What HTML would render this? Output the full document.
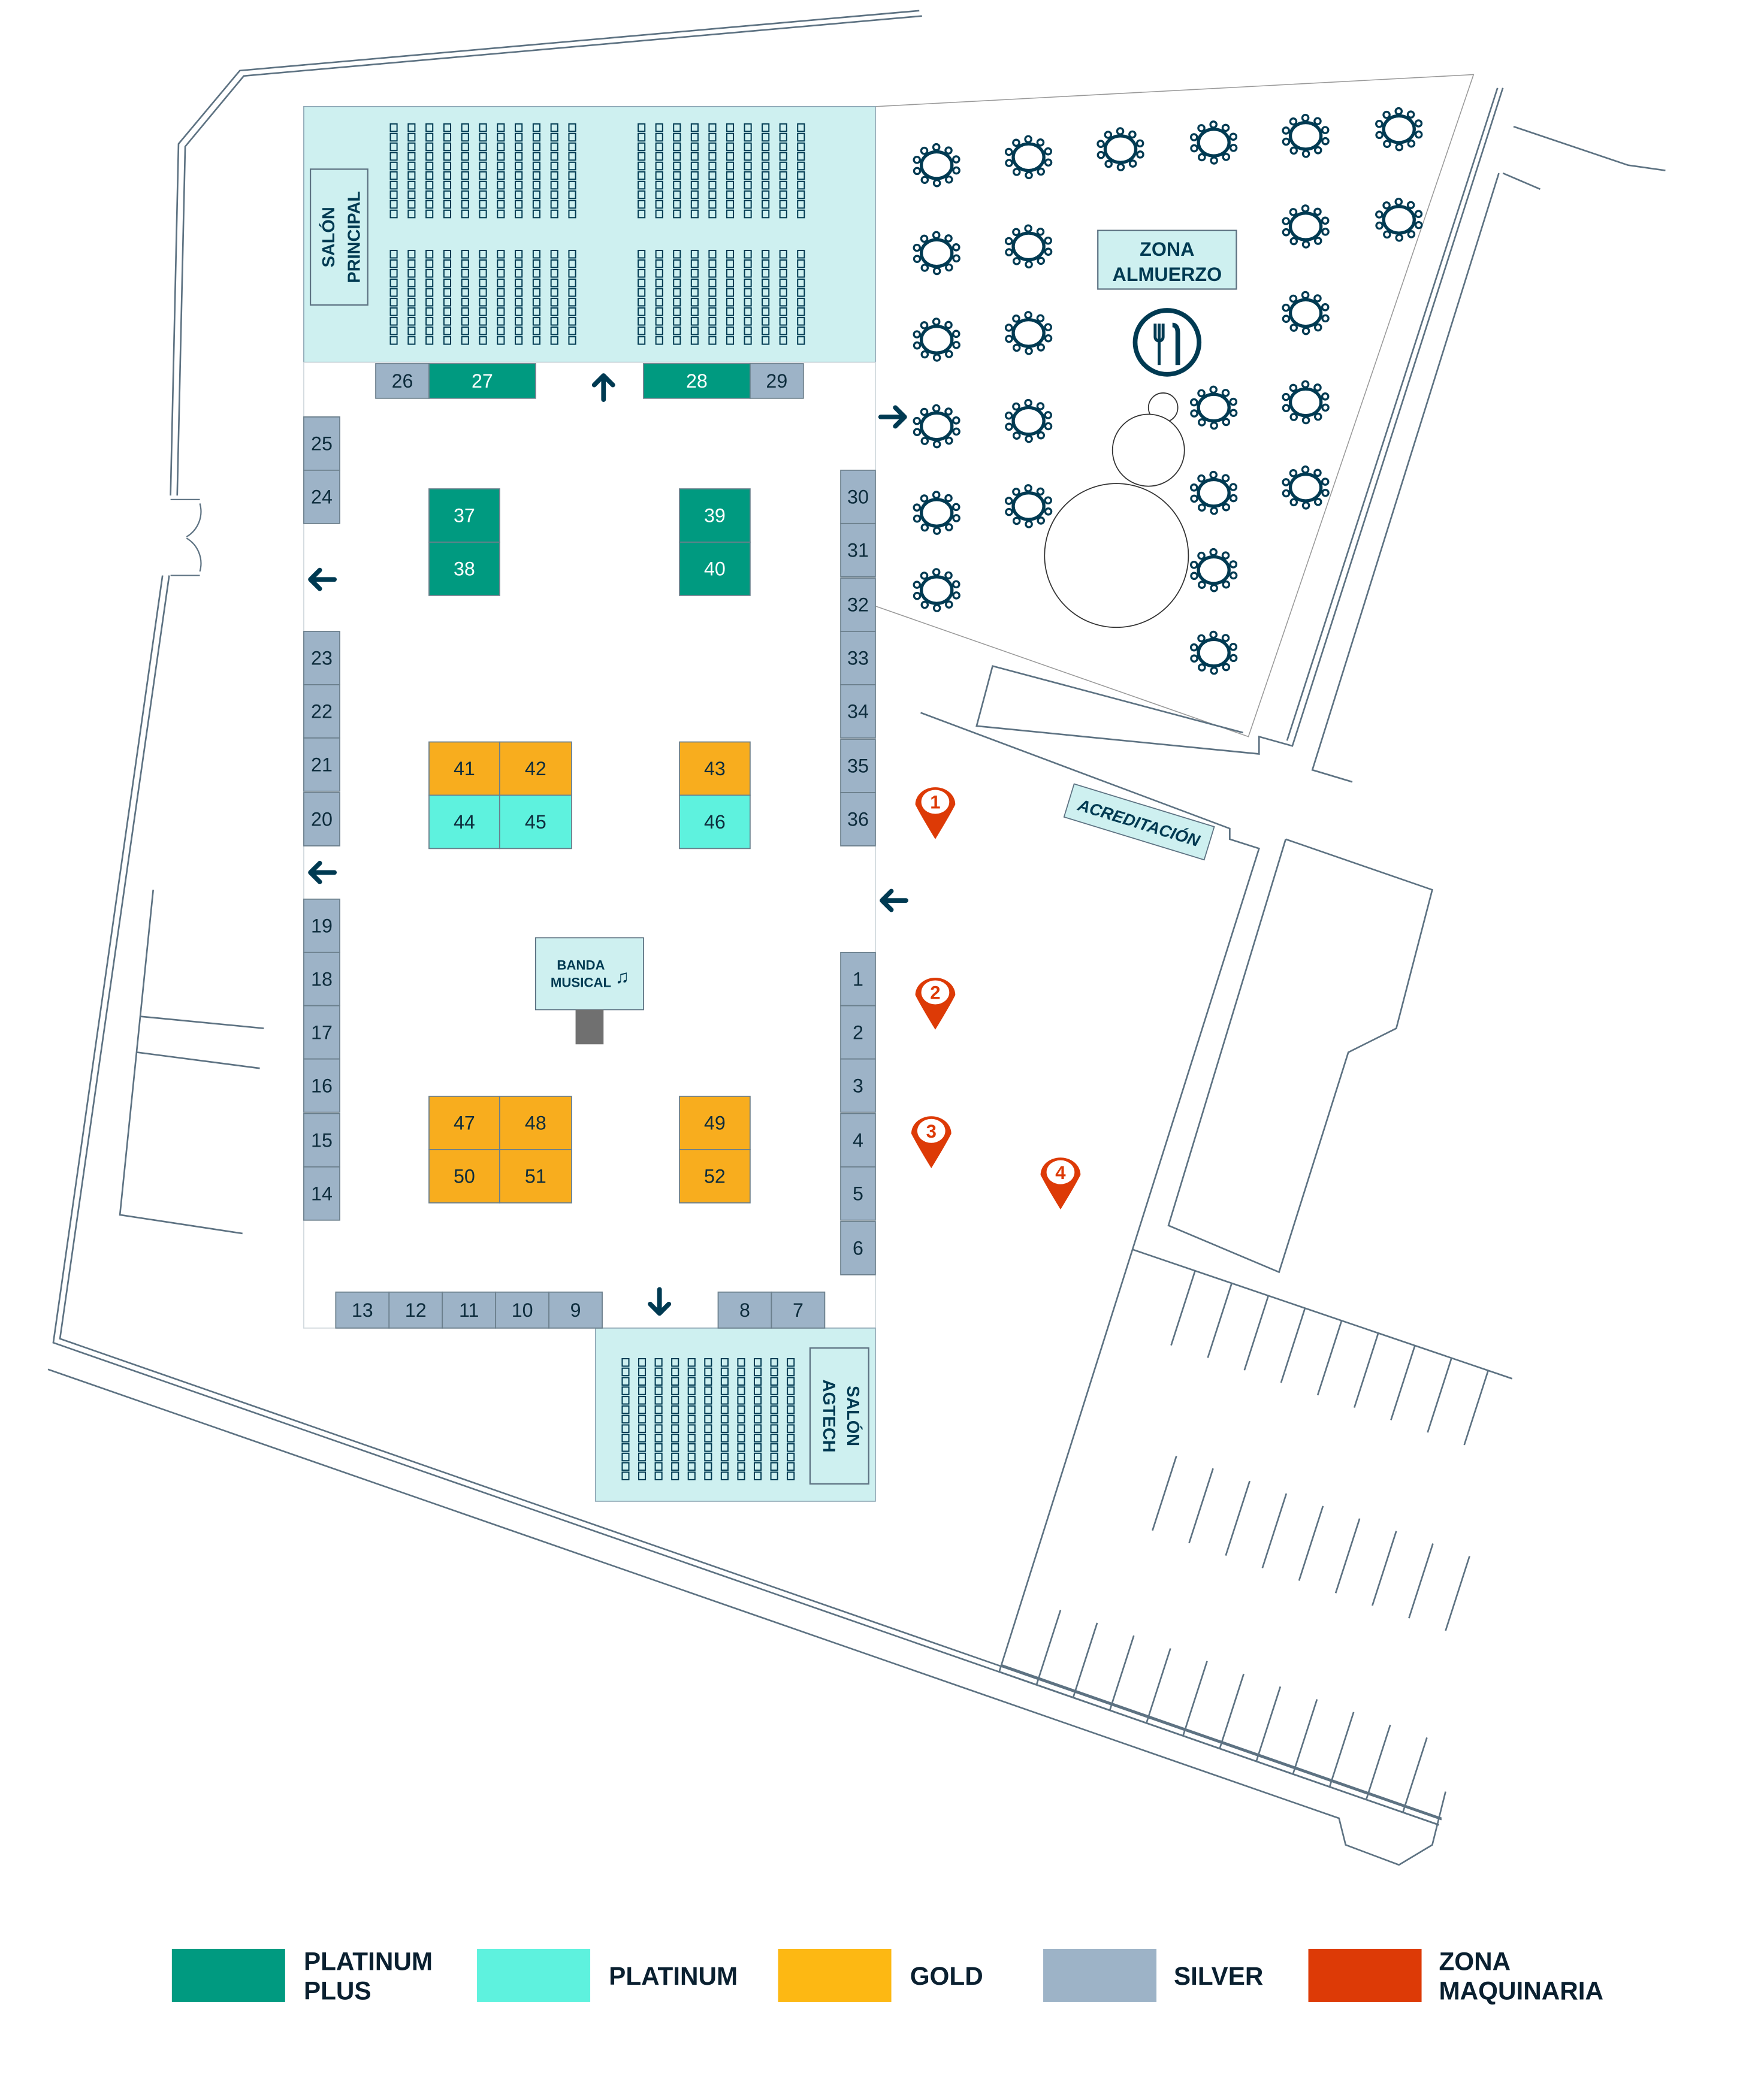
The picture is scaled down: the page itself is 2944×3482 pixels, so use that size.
<!DOCTYPE html>
<html><head><meta charset="utf-8">
<style>
html,body{margin:0;padding:0;background:#fff;}
svg{display:block;}
text{font-family:"Liberation Sans",sans-serif;}
</style></head>
<body>
<svg id="s" width="2944" height="3482" viewBox="0 0 1324 1566" preserveAspectRatio="none" xmlns="http://www.w3.org/2000/svg">
<g fill="none" stroke="#5d7282" stroke-width="1.2">
<polyline points="690,8 180,53 134,108 128,372"/>
<polyline points="692,12 183,57 139,110 133,372"/>
<polyline points="122,432 40,1008 1080,1370"/>
<polyline points="127,432 45,1005 1082,1366"/>
<polyline points="36,1028 1005,1365 1010,1385 1050,1400 1075,1385 1085,1345"/>
<path d="M128,375 h22 M128,432 h22 M150,378 a22,22 0 0 1 -10,25 M150,429 a22,22 0 0 0 -10,-25" stroke-width="1"/>
<polyline points="115,668 90,912 182,926"/>
<line x1="105" y1="763" x2="198" y2="772"/><line x1="103" y1="790" x2="195" y2="802"/>
<polyline points="657,80 1106,56 937,553 657,455" stroke-width="0.7" stroke="#999"/>
<polyline points="1128,66 970,560 945,553 945,566 733,545 745,500 933,550"/>
<polyline points="1124,66 966,556"/>
<polyline points="1136,95 1222,124 1250,128"/>
<polyline points="1125,130 985,578 1015,587"/>
<polyline points="1128,130 1156,142"/>
<polyline points="691,535 923,622 923,630 945,637 750,1255"/>
<polyline points="965,630 1075,668 1048,772 1012,790 960,955 877,920 965,630"/>
<polyline points="850,938 1135,1035"/>
<polyline points="750,1255 1080,1370"/>
<polyline points="752,1250 1082,1365"/>
<g id="park"></g>
</g>
<rect x="228" y="80" width="429" height="192" fill="#cef0f0" stroke="#8fa8b6" stroke-width="0.8"/>
<rect x="228" y="272" width="429" height="725" fill="#fff" stroke="#d0d8dd" stroke-width="0.8"/>
<rect x="233" y="127" width="43" height="102" fill="#cef0f0" stroke="#5d7282" stroke-width="1"/>
<text transform="translate(251,178) rotate(-90)" text-anchor="middle" font-size="13" font-weight="bold" fill="#003a52">SALÓN</text>
<text transform="translate(270,178) rotate(-90)" text-anchor="middle" font-size="13" font-weight="bold" fill="#003a52">PRINCIPAL</text>
<rect x="447" y="997" width="210" height="130" fill="#cef0f0" stroke="#8fa8b6" stroke-width="0.8"/>
<rect x="608" y="1012" width="44" height="102" fill="#cef0f0" stroke="#5d7282" stroke-width="1"/>
<text transform="translate(636,1063) rotate(90)" text-anchor="middle" font-size="13" font-weight="bold" fill="#003a52">SALÓN</text>
<text transform="translate(618,1063) rotate(90)" text-anchor="middle" font-size="13" font-weight="bold" fill="#003a52">AGTECH</text>
<g id="chairs" fill="none" stroke="#003a52" stroke-width="0.9"></g>
<g id="booths" font-size="14.5"></g>
<rect x="402" y="704" width="81" height="54" fill="#cef0f0" stroke="#5d7282" stroke-width="0.8"/>
<text x="436" y="728" text-anchor="middle" font-size="10" font-weight="bold" fill="#003a52">BANDA</text>
<text x="436" y="741" text-anchor="middle" font-size="10" font-weight="bold" fill="#003a52">MUSICAL</text>
<text x="467" y="738" text-anchor="middle" font-size="14" fill="#003a52">♫</text>
<rect x="432" y="758" width="21" height="26" fill="#707070"/>
<g stroke="#003a52" stroke-width="3.5" fill="none" stroke-linecap="round" stroke-linejoin="round">
<path d="M453,300 v-18 M446,289 l7,-7 l7,7"/>
<path d="M251,435 h-18 M240,428 l-7,7 l7,7"/>
<path d="M251,655 h-18 M240,648 l-7,7 l7,7"/>
<path d="M661,313 h18 M672,306 l7,7 l-7,7"/>
<path d="M680,676 h-18 M669,669 l-7,7 l7,7"/>
<path d="M495,968 v18 M488,979 l7,7 l7,-7"/>
</g>
<rect x="824" y="173" width="104" height="44" fill="#cef0f0" stroke="#5d7282" stroke-width="1"/>
<text x="876" y="192" text-anchor="middle" font-size="14.5" font-weight="bold" fill="#003a52">ZONA</text>
<text x="876" y="211" text-anchor="middle" font-size="14.5" font-weight="bold" fill="#003a52">ALMUERZO</text>
<circle cx="876" cy="257" r="24" fill="none" stroke="#003a52" stroke-width="3.5"/>
<path d="M867,243 v10 a3,3 0 0 0 6,0 v-10 M870,243 v31" stroke="#003a52" stroke-width="2.2" fill="none"/>
<path d="M880,244 q4,0 4,6 v24" stroke="#003a52" stroke-width="3.5" fill="none"/>
<g fill="#fff" stroke="#333" stroke-width="0.8">
<circle cx="873" cy="306" r="11"/>
<circle cx="838" cy="417" r="54"/>
<circle cx="862" cy="338" r="27"/>
<circle cx="838" cy="417" r="53.3" stroke="none"/>
<circle cx="862" cy="338" r="26.3" stroke="none"/>
</g>
<g id="tables" fill="none" stroke="#003a52"></g>
<g transform="translate(855,617) rotate(17)">
<rect x="-55" y="-13" width="110" height="26" fill="#cef0f0" stroke="#5d7282" stroke-width="0.8"/>
<text x="0" y="5" text-anchor="middle" font-size="12.5" font-weight="bold" font-style="italic" fill="#003a52">ACREDITACIÓN</text>
</g>
<g id="pins"></g>
<rect x="129" y="1463" width="85" height="40" fill="#009a80"/>
<rect x="358" y="1463" width="85" height="40" fill="#5ef2de"/>
<rect x="584" y="1463" width="85" height="40" fill="#fdb813"/>
<rect x="783" y="1463" width="85" height="40" fill="#9db3c7"/>
<rect x="982" y="1463" width="85" height="40" fill="#dd3a06"/>
<g font-size="19" font-weight="bold" fill="#0a2030">
<text x="228" y="1479">PLATINUM</text><text x="228" y="1501">PLUS</text>
<text x="457" y="1490">PLATINUM</text>
<text x="683" y="1490">GOLD</text>
<text x="881" y="1490">SILVER</text>
<text x="1080" y="1479">ZONA</text><text x="1080" y="1501">MAQUINARIA</text>
</g>
</svg>
<script>
var NS="http://www.w3.org/2000/svg";
function el(p,t,a,txt){var e=document.createElementNS(NS,t);for(var k in a)e.setAttribute(k,a[k]);if(txt!==undefined)e.textContent=txt;document.getElementById(p).appendChild(e);return e;}
function block(x0,y0,cols,rows,px,py){for(var c=0;c<cols;c++)for(var r=0;r<rows;r++)el("chairs","rect",{x:x0+c*px,y:y0+r*py,width:5,height:5.6});}
block(293,93,11,10,13.4,7.2);block(293,188,11,10,13.4,7.2);
block(479,93,10,10,13.3,7.2);block(479,188,10,10,13.3,7.2);
block(467,1020,11,13,12.4,7.1);
var C={pp:"#009a80",p:"#5ef2de",g:"#f8ad1e",s:"#9db3c7"};
function b(x,y,w,h,n,t){el("booths","rect",{x:x,y:y,width:w,height:h,fill:C[t],stroke:"#6b7f8c","stroke-width":0.8});
el("booths","text",{x:x+w/2,y:y+h/2+5,"text-anchor":"middle",fill:(t=="pp"?"#fff":"#0d2c3c")},n);}
b(282,273,40,26,"26","s");b(322,273,80,26,"27","pp");b(483,273,80,26,"28","pp");b(563,273,40,26,"29","s");
[[25,313],[24,353],[23,474],[22,514],[21,554],[20,595],[19,675],[18,715],[17,755],[16,795],[15,836],[14,876]].forEach(function(a){b(228,a[1],27,40,""+a[0],"s");});
[[30,353],[31,393],[32,434],[33,474],[34,514],[35,555],[36,595],[1,715],[2,755],[3,795],[4,836],[5,876],[6,917]].forEach(function(a){b(631,a[1],26,40,""+a[0],"s");});
[[13,252],[12,292],[11,332],[10,372],[9,412],[8,539],[7,579]].forEach(function(a){b(a[1],970,40,27,""+a[0],"s");});
b(322,367,53,40,"37","pp");b(322,407,53,40,"38","pp");b(510,367,53,40,"39","pp");b(510,407,53,40,"40","pp");
b(322,557,53,40,"41","g");b(375,557,54,40,"42","g");b(510,557,53,40,"43","g");
b(322,597,53,40,"44","p");b(375,597,54,40,"45","p");b(510,597,53,40,"46","p");
b(322,823,53,40,"47","g");b(375,823,54,40,"48","g");b(510,823,53,40,"49","g");
b(322,863,53,40,"50","g");b(375,863,54,40,"51","g");b(510,863,53,40,"52","g");
var T=[[703,124],[703,190],[703,255],[703,320],[703,385],[703,443],[772,118],[772,185],[772,250],[772,316],[772,380],[841,112],[911,107],[911,306],[911,370],[911,428],[911,490],[980,102],[980,170],[980,235],[980,302],[980,366],[1050,97],[1050,165]];
T.forEach(function(p){el("tables","ellipse",{cx:p[0],cy:p[1],rx:11.5,ry:10,"stroke-width":2.4,fill:"#fff"});
for(var i=0;i<10;i++){var a=i*Math.PI/5+0.3;el("tables","circle",{cx:p[0]+15.5*Math.cos(a),cy:p[1]+13.5*Math.sin(a),r:2.3,"stroke-width":1.5,fill:"#fff"});}});
[[702,602,"1"],[702,745,"2"],[699,849,"3"],[796,880,"4"]].forEach(function(p){var x=p[0],y=p[1];
el("pins","path",{d:"M"+(x-15)+","+(y+2)+" a15,13 0 1 1 30,0 q-4,8 -15,26 q-11,-18 -15,-26z",fill:"#dd3a06"});
el("pins","ellipse",{cx:x,cy:y,rx:10.5,ry:9,fill:"#fff"});
el("pins","text",{x:x,y:y+5,"text-anchor":"middle","font-size":14,"font-weight":"bold",fill:"#dd3a06"},p[2]);});
for(var i=0;i<9;i++){var x=897+27.5*i,y=938+(x-850)*0.34;el("park","line",{x1:x,y1:y,x2:x-18,y2:y+56});}
for(var i=0;i<9;i++){var x=883+27.5*i,y=1093+9.4*i;el("park","line",{x1:x,y1:y,x2:x-18,y2:y+56});}
for(var i=0;i<11;i++){var x=778+27.5*i,y=1255+(x-750)*0.348;el("park","line",{x1:x,y1:y,x2:x+18,y2:y-56});}
</script>
</body></html>
